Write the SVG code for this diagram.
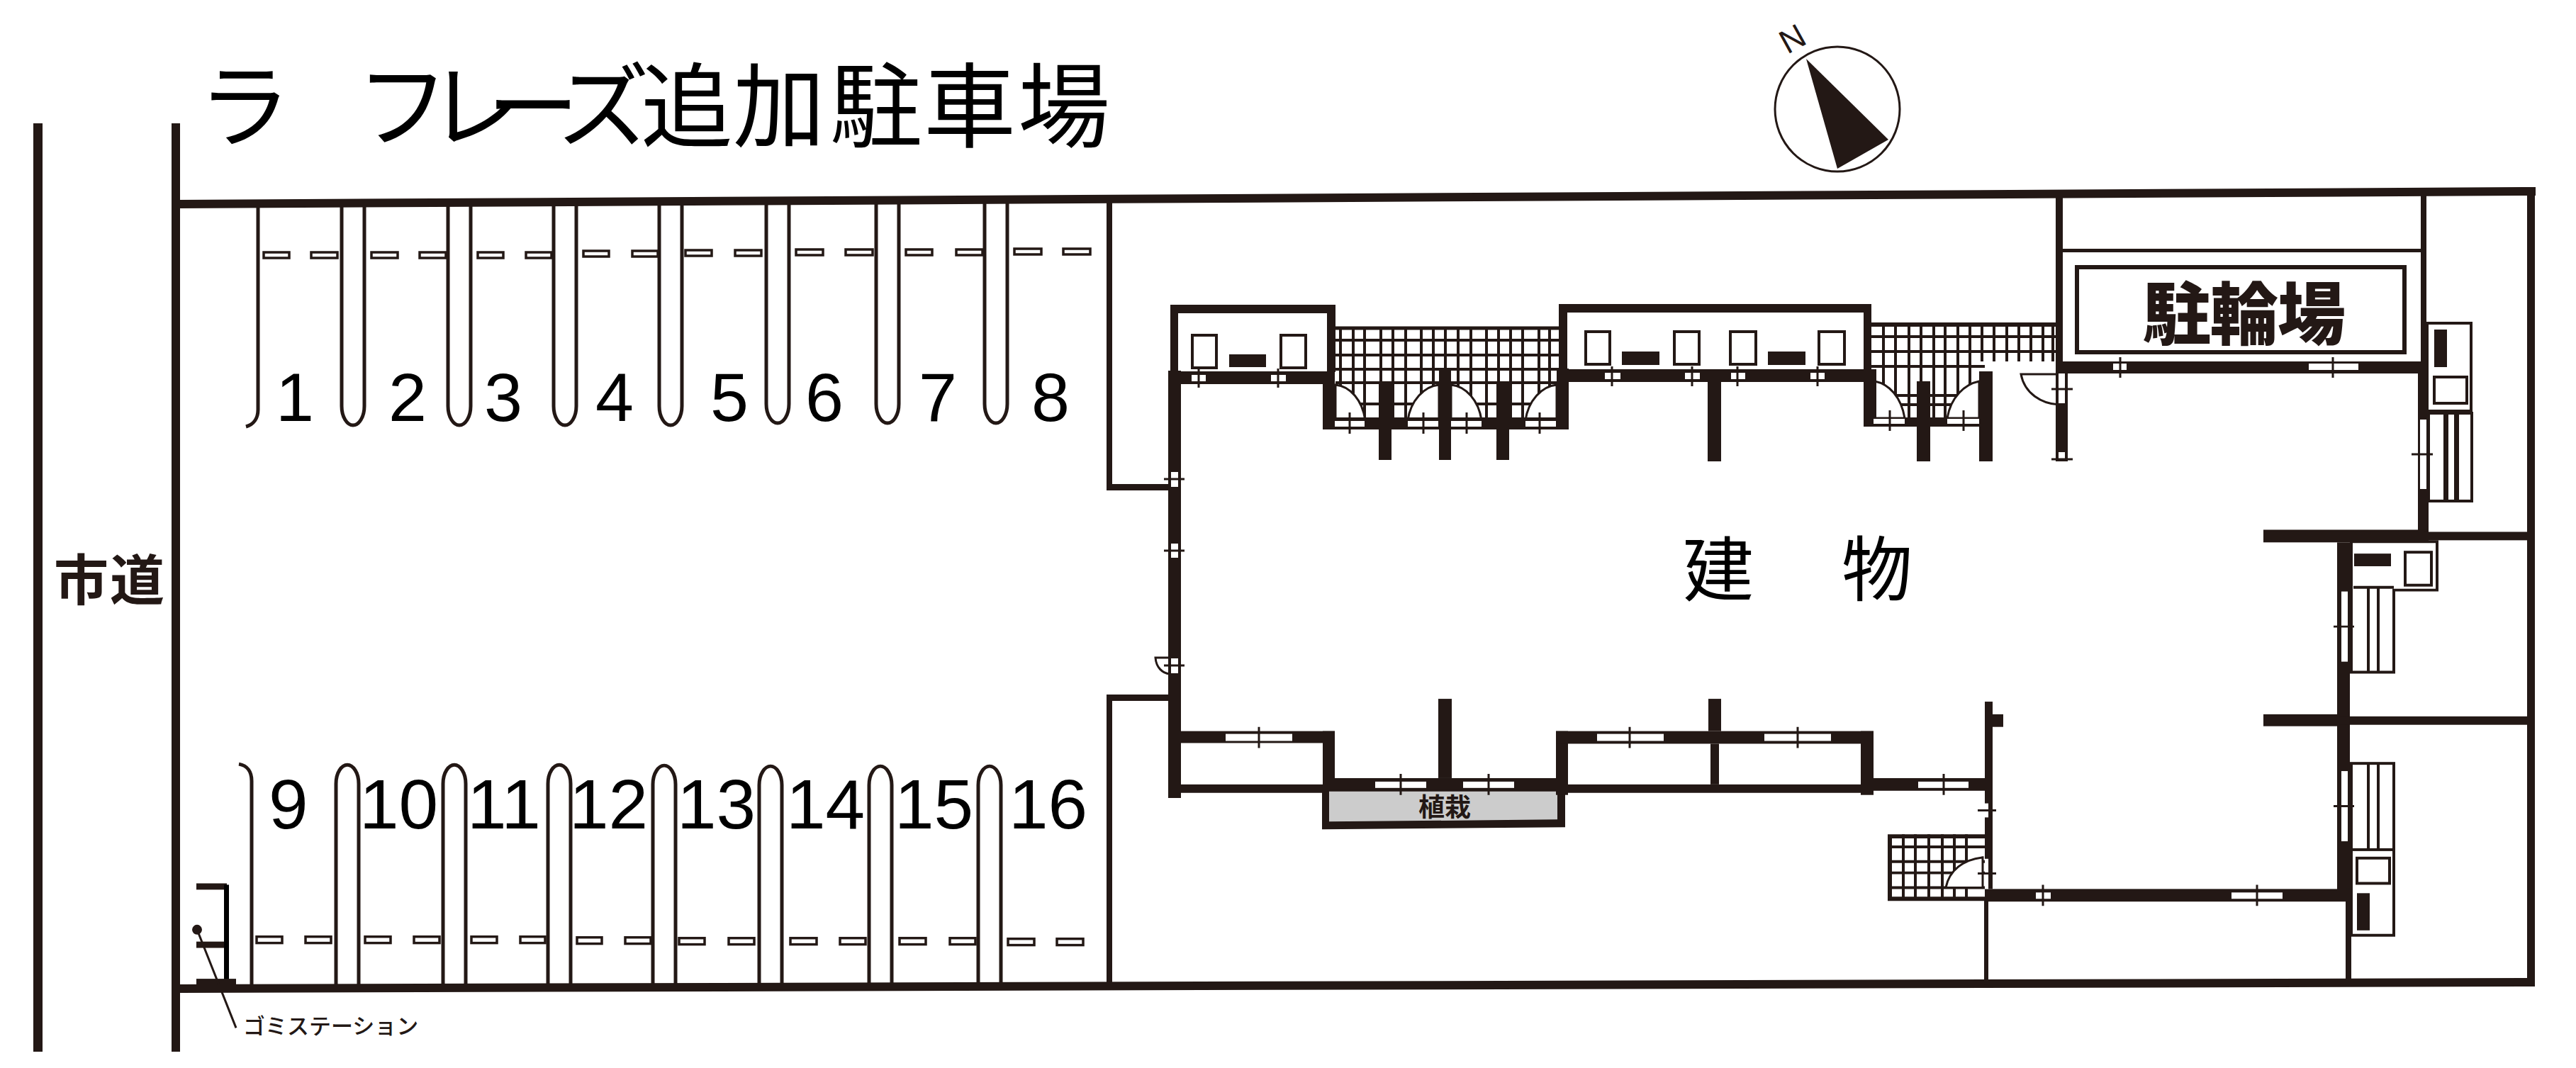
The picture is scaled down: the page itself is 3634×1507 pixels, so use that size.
<svg xmlns="http://www.w3.org/2000/svg" width="3634" height="1507" viewBox="0 0 3634 1507">
<style>
.w{fill:#231815}
.s{fill:none;stroke:#231815}
.d{fill:#fff;stroke:#231815;stroke-width:3.5}
.is{fill:#fff;stroke:#231815;stroke-width:5}
.box{fill:#fff;stroke:#231815;stroke-width:4}
.gr{stroke:#231815;stroke-width:4;fill:none}
.win{fill:#fff}
.tk{stroke:#231815;stroke-width:3;fill:none}
.door{fill:#fff;stroke:#231815;stroke-width:3}
.jp{font-family:"Noto Sans CJK JP","Noto Sans CJK SC",sans-serif}
.num{font-family:"Liberation Sans",Arial,sans-serif;font-size:97px;fill:#000}
.num2{font-family:"Liberation Sans",Arial,sans-serif;font-size:100px;fill:#000}
</style>
<defs>
<path id="tu" d="M0,-315 V-30 C0,-14 8,-3 16,-3 S32,-14 32,-30 V-315"/>
<path id="bu" d="M0,318 V30 C0,14 8,3 16,3 S32,14 32,30 V318"/>
</defs>
<rect width="3634" height="1507" fill="#fff"/>

<g id="title"><text class="jp" font-size="130" font-weight="400" y="197" x="280 410 503 604 687 786 904 1034 1171 1303 1436">ラ　フレーズ追加駐車場</text></g>

<g id="north">
<circle cx="2592" cy="154" r="88" fill="#fff" stroke="#231815" stroke-width="3"/>
<polygon class="w" points="2548,83 2664,197 2592,238"/>
<text transform="translate(2528,54) rotate(-29)" y="17" text-anchor="middle" font-family="Liberation Sans,Arial,sans-serif" font-size="47" fill="#231815">N</text>
</g>

<g id="road">
<rect class="w" x="47" y="174" width="13" height="1310"/>
<rect class="w" x="242" y="174" width="12" height="1310"/>
<text class="jp" x="76 155" y="847" font-size="77" font-weight="700" fill="#231815">市道</text>
</g>

<g id="parking-top">
<g class="is">
<use href="#tu" x="482" y="603"/><use href="#tu" x="632" y="603"/><use href="#tu" x="781" y="603"/><use href="#tu" x="930" y="603"/>
<use href="#tu" x="1081" y="600"/><use href="#tu" x="1236" y="600"/><use href="#tu" x="1389" y="600"/>
</g>
<path class="s" stroke-width="5" d="M364,288 V578 C364,590 358,599 347,602"/>
<g class="d">
<rect x="372" y="356" width="36" height="8"/><rect x="439" y="356" width="37" height="8"/><rect x="524" y="356" width="37" height="8"/><rect x="592" y="356" width="37" height="8"/><rect x="674" y="356" width="36" height="8"/><rect x="742" y="356" width="36" height="8"/>
<rect x="823" y="354" width="36" height="8"/><rect x="892" y="354" width="36" height="8"/><rect x="967" y="353" width="37" height="8"/><rect x="1037" y="353" width="37" height="8"/>
<rect x="1123" y="352" width="38" height="8"/><rect x="1193" y="352" width="38" height="8"/><rect x="1278" y="352" width="37" height="8"/><rect x="1349" y="352" width="37" height="8"/><rect x="1431" y="351" width="38" height="8"/><rect x="1500" y="351" width="38" height="8"/>
</g>
<g class="num" text-anchor="middle">
<text x="416" y="594">1</text><text x="575" y="594">2</text><text x="710" y="594">3</text><text x="867" y="594">4</text><text x="1029" y="594">5</text><text x="1163" y="594">6</text><text x="1323" y="594">7</text><text x="1482" y="594">8</text>
</g>
</g>

<g id="parking-bottom" transform="translate(0,5) scale(1,.99)">
<g class="is">
<use href="#bu" x="474" y="1082"/><use href="#bu" x="625" y="1082"/><use href="#bu" x="773" y="1082"/><use href="#bu" x="921" y="1083"/><use href="#bu" x="1071" y="1084"/><use href="#bu" x="1226" y="1084"/><use href="#bu" x="1380" y="1084"/>
</g>
<path class="s" stroke-width="5" d="M337,1084 C349,1086 355,1095 355,1108 V1400"/>
<g class="d">
<rect x="362" y="1330" width="36" height="9"/><rect x="431" y="1330" width="36" height="9"/><rect x="515" y="1330" width="36" height="9"/><rect x="584" y="1330" width="36" height="9"/><rect x="665" y="1330" width="36" height="9"/><rect x="734" y="1330" width="35" height="9"/><rect x="814" y="1331" width="35" height="9"/><rect x="882" y="1331" width="36" height="9"/>
<rect x="958" y="1332" width="36" height="9"/><rect x="1028" y="1332" width="36" height="9"/><rect x="1115" y="1332" width="37" height="9"/><rect x="1185" y="1332" width="36" height="9"/><rect x="1269" y="1332" width="37" height="9"/><rect x="1340" y="1332" width="36" height="9"/><rect x="1422" y="1333" width="37" height="9"/><rect x="1491" y="1333" width="37" height="9"/>
</g>
<g class="num2">
<text x="379" y="1176">9</text><text x="507" y="1176">10</text><text x="659" y="1176">11</text><text x="803" y="1176">12</text><text x="955" y="1176">13</text><text x="1109" y="1176">14</text><text x="1262" y="1176">15</text><text x="1423" y="1176">16</text>
</g>
</g>

<g id="garbage-station" transform="translate(0,5) scale(1,.99)">
<rect class="w" x="277" y="1254" width="43" height="9"/>
<rect x="316" y="1256" width="7" height="142" fill="#000"/>
<rect class="w" x="277" y="1337" width="39" height="9"/>
<rect class="w" x="277" y="1390" width="56" height="8"/>
<line class="tk" x1="278" y1="1320" x2="333" y2="1460"/>
<ellipse class="w" cx="278" cy="1320" rx="7" ry="7"/>
<text class="jp" x="343" y="1469" font-size="31" font-weight="500" fill="#231815">ゴミステーション</text>
</g>

<g id="tile-grids" class="gr">
<path d="M1891,463V590M1909,463V590M1925,463V590M1948,463V590M1965,463V590M1983,463V590M2005,463V590M2022,463V590M2039,463V590M2057,463V590M2075,463V590M2097,463V590M2114,463V590M2131,463V590M2148,463V590M2171,463V590M2186,463V590"/>
<path d="M1884,463H2200M1884,480H2200M1884,501H2200M1884,521H2200M1884,540H2200M1884,570H2200"/>
<path stroke-width="5" d="M1884,463H2200"/>
<path d="M2657,458V594M2674,458V594M2693,458V594M2710,458V594M2728,458V594M2744,458V594M2762,458V594M2779,458V594M2796,458V510M2813,458V510M2831,458V510M2848,458V510M2865,458V510M2882,458V510M2896,458V510"/>
<path d="M2640,458H2905M2640,475H2905M2640,496H2905M2640,517H2800M2640,558H2800M2640,571H2800"/>
<path stroke-width="6" d="M2640,458H2905"/>
</g>

<g id="south-entry" transform="translate(0,5) scale(1,.99)">
<g class="gr">
<path d="M2685,1184V1278M2702,1184V1278M2721,1184V1278M2740,1184V1278M2757,1184V1278M2774,1184V1278M2663,1202H2800M2663,1223H2800M2663,1239H2800M2663,1260H2800"/>
<path stroke-width="6" d="M2666,1187H2800M2666,1184V1278M2663,1276H2800"/>
</g>
<path class="door" d="M2797,1217 C2770,1220 2750,1235 2745,1260 H2797Z"/>
</g>

<g id="doors" class="door">
<path d="M1884,543 C1905,545 1922,565 1926,593 H1884Z"/>
<path d="M2030,543 C2009,545 1990,565 1986,593 H2030Z"/>
<path d="M2047,543 C2068,545 2086,565 2090,593 H2047Z"/>
<path d="M2196,543 C2175,545 2156,565 2152,593 H2196Z"/>
<path d="M2645,538 C2665,542 2682,560 2687,590 H2645Z"/>
<path d="M2792,538 C2772,542 2752,560 2747,590 H2792Z"/>
<path d="M2851,528 H2905 V571 C2880,570 2856,555 2851,528Z"/>
<path d="M1630,928 H1650 V951 C1640,950 1631,942 1630,928Z"/>
</g>

<g id="planter" transform="translate(0,5) scale(1,.99)">
<polygon points="1873,1120 2199,1120 2199,1166 1873,1168" fill="#ccc"/>
<polygon class="w" points="1865,1122 1875,1122 1875,1166 2197,1163 2197,1122 2208,1122 2208,1174 1865,1177"/>
<text class="jp" x="2038" y="1159" font-size="37" font-weight="700" text-anchor="middle" fill="#231815">植栽</text>
</g>

<g id="boundary">
<polygon class="w" points="254,282 3577,264 3577,276 254,294"/>
<polygon class="w" points="254,1389 3576,1380 3576,1392 254,1401"/>
<rect class="w" x="3565" y="264" width="11" height="1126"/>
<rect class="w" x="1561" y="286" width="8" height="402"/>
<rect class="w" x="1561" y="683" width="90" height="9"/>
<rect class="w" x="1561" y="980" width="90" height="9"/>
<rect class="w" x="1561" y="980" width="8" height="412"/>
<rect class="w" x="2900" y="272" width="10" height="240"/>
<rect class="w" x="2905" y="351" width="515" height="5"/>
<rect class="w" x="3415" y="268" width="8" height="244"/>
<rect x="2930" y="377" width="462" height="120" fill="#fff" stroke="#231815" stroke-width="6"/>
</g>

<g id="building-walls-north" class="w">
<rect x="1648" y="523" width="18" height="603"/>
<rect x="1651" y="430" width="233" height="12"/><rect x="1651" y="430" width="11" height="95"/><rect x="1872" y="430" width="12" height="95"/>
<rect x="1648" y="524" width="235" height="18"/>
<rect x="1866" y="524" width="17" height="82"/>
<rect x="1866" y="589" width="347" height="17"/>
<rect x="2196" y="520" width="17" height="86"/>
<rect x="1945" y="539" width="18" height="110"/><rect x="2030" y="520" width="17" height="129"/><rect x="2111" y="539" width="18" height="110"/>
<rect x="2199" y="429" width="441" height="12"/><rect x="2199" y="429" width="12" height="95"/><rect x="2629" y="429" width="11" height="95"/>
<rect x="2199" y="521" width="448" height="18"/>
<rect x="2409" y="535" width="19" height="116"/>
<rect x="2629" y="521" width="18" height="81"/>
<rect x="2629" y="589" width="182" height="13"/>
<rect x="2704" y="538" width="19" height="113"/><rect x="2792" y="524" width="19" height="127"/>
<rect x="2900" y="510" width="528" height="17"/>
<rect x="2900" y="527" width="17" height="124"/>
<rect x="3411" y="510" width="15" height="255"/>
</g>

<g id="building-walls-south" class="w" transform="translate(0,5) scale(1,.99)">
<rect x="3193" y="750" width="232" height="18"/>
<rect x="3420" y="753" width="145" height="12"/>
<rect x="3297" y="768" width="18" height="509"/>
<rect x="3309" y="1262" width="8" height="135"/>
<rect x="3193" y="1013" width="104" height="17"/>
<rect x="3300" y="1016" width="265" height="12"/>
<rect x="2800" y="1262" width="516" height="18"/>
<rect x="2800" y="995" width="11" height="267"/>
<rect x="2811" y="1013" width="15" height="18"/>
<rect x="2799" y="1278" width="6" height="120"/>
<rect x="1666" y="1037" width="217" height="17"/>
<rect x="1866" y="1037" width="17" height="86"/>
<rect x="1666" y="1113" width="200" height="12"/>
<rect x="1883" y="1104" width="314" height="19"/>
<rect x="2029" y="991" width="19" height="113"/>
<rect x="2195" y="1037" width="17" height="91"/>
<rect x="2195" y="1037" width="448" height="18"/>
<rect x="2625" y="1037" width="18" height="91"/>
<rect x="2212" y="1113" width="413" height="12"/>
<rect x="2413" y="1055" width="12" height="58"/>
<rect x="2410" y="991" width="18" height="46"/>
<rect x="2643" y="1104" width="157" height="18"/>
</g>

<g id="fixtures-north">
<g class="box">
<rect x="1682" y="473" width="34" height="46"/><rect x="1807" y="473" width="35" height="46"/>
<rect x="2237" y="468" width="34" height="46"/><rect x="2362" y="468" width="35" height="46"/><rect x="2441" y="468" width="36" height="46"/><rect x="2566" y="468" width="36" height="46"/>
</g>
<g class="w">
<rect x="1734" y="500" width="52" height="18"/><rect x="2288" y="496" width="53" height="19"/><rect x="2494" y="496" width="53" height="19"/>
</g>
</g>

<g id="stairs-east-upper">
<g class="box">
<rect x="3424" y="456" width="62" height="124"/>
<rect x="3434" y="532" width="46" height="37"/>
<rect x="3426" y="583" width="61" height="124"/>
<path d="M3449,583V707M3464,583V707M3452,583V707M3467,583V707" fill="none"/>
</g>
<rect class="w" x="3434" y="465" width="18" height="53"/>
</g>

<g id="stairs-east-lower" transform="translate(0,5) scale(1,.99)">
<g class="box">
<path fill="#fff" d="M3317,767H3438V836H3377V953H3317Z"/>
<rect x="3393" y="782" width="37" height="47"/>
<path d="M3320,832H3377M3341,832V953M3355,832V953"/>
<rect x="3317" y="1083" width="60" height="123"/>
<path d="M3341,1083V1206M3355,1083V1206"/>
<rect x="3317" y="1206" width="60" height="122"/>
<rect x="3325" y="1218" width="46" height="36"/>
</g>
<g class="w">
<rect x="3321" y="784" width="52" height="18"/>
<rect x="3325" y="1268" width="18" height="53"/>
</g>
</g>

<g id="windows-north">
<g class="win">
<rect x="1681" y="529" width="20" height="9"/><rect x="1793" y="529" width="21" height="9"/>
<rect x="1883" y="594" width="42" height="8"/><rect x="1986" y="594" width="43" height="8"/><rect x="2047" y="594" width="43" height="8"/><rect x="2152" y="594" width="43" height="8"/>
<rect x="2264" y="526" width="22" height="9"/><rect x="2377" y="526" width="21" height="9"/><rect x="2442" y="526" width="20" height="9"/><rect x="2554" y="526" width="20" height="9"/>
<rect x="2643" y="591" width="44" height="7"/><rect x="2747" y="591" width="45" height="7"/>
<rect x="2981" y="513" width="19" height="9"/><rect x="3257" y="513" width="70" height="9"/>
<rect x="2904" y="527" width="9" height="42"/><rect x="2904" y="638" width="9" height="10"/>
<rect x="3414" y="592" width="9" height="98"/>
<rect x="1652" y="666" width="10" height="21"/><rect x="1652" y="767" width="10" height="20"/><rect x="1652" y="929" width="10" height="21"/>
</g>
<path class="tk" d="M1691,520V547M1803,520V547M1904,582V612M2008,582V612M2069,582V612M2172,582V612M2274,517V545M2387,517V545M2451,517V545M2564,517V545M2666,579V608M2770,579V608M2991,504V533M3291,504V533M2894,549H2924M2894,648H2924M3402,641H3432M1642,676H1671M1642,777H1671M1642,939H1671"/>
</g>

<g id="windows-south" transform="translate(0,5) scale(1,.99)">
<g class="win">
<rect x="1729" y="1041" width="94" height="10"/><rect x="1940" y="1109" width="72" height="9"/><rect x="2064" y="1109" width="72" height="9"/>
<rect x="2253" y="1041" width="94" height="10"/><rect x="2489" y="1041" width="94" height="10"/><rect x="2706" y="1109" width="71" height="9"/>
<rect x="2872" y="1267" width="21" height="9"/><rect x="3148" y="1267" width="72" height="9"/>
<rect x="3303" y="838" width="9" height="100"/><rect x="3303" y="1094" width="9" height="100"/>
<rect x="2800" y="1140" width="5" height="20"/><rect x="2800" y="1219" width="5" height="43"/>
</g>
<path class="tk" d="M1776,1031V1061M1976,1098V1128M2100,1098V1128M2299,1031V1061M2536,1031V1061M2742,1098V1128M2882,1256V1286M3184,1256V1286M3292,888H3321M3292,1144H3321M2790,1150H2816M2790,1240H2816"/>
</g>

<g id="labels">
<text class="jp" x="2374 2598" y="840" font-size="100" font-weight="400">建物</text>
<text class="jp" x="3023 3118 3213" y="478" font-size="96" font-weight="900" fill="#231815">駐輪場</text>
</g>
</svg>
